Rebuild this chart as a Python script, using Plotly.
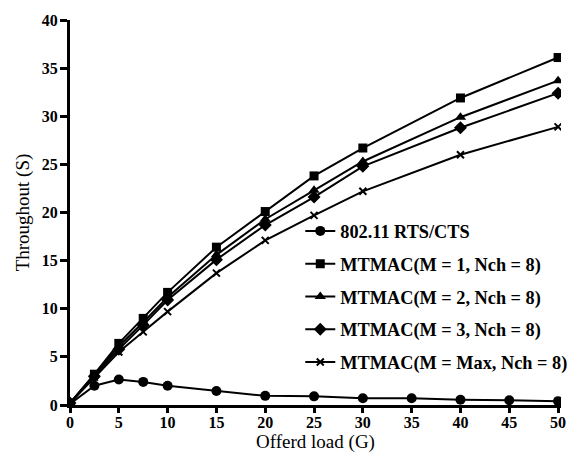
import plotly.graph_objects as go

x_mtmac = [0, 2.5, 5, 7.5, 10, 15, 20, 25, 30, 40, 50]
x_rts = [0, 2.5, 5, 7.5, 10, 15, 20, 25, 30, 35, 40, 45, 50]

rts_cts = [0.1, 2.0, 2.65, 2.4, 2.0, 1.45, 0.95, 0.9, 0.7, 0.7, 0.55, 0.5, 0.4]
mtmac_m1 = [0.2, 3.2, 6.4, 9.0, 11.7, 16.4, 20.1, 23.8, 26.7, 31.9, 36.1]
mtmac_m2 = [0.2, 3.1, 6.1, 8.6, 11.2, 15.6, 19.3, 22.3, 25.3, 29.9, 33.7]
mtmac_m3 = [0.2, 3.0, 5.8, 8.3, 10.9, 15.1, 18.7, 21.6, 24.8, 28.8, 32.4]
mtmac_max = [0.2, 2.9, 5.5, 7.6, 9.7, 13.7, 17.1, 19.7, 22.2, 26.0, 28.9]

names = ["802.11 RTS/CTS", "MTMAC(M = 1, Nch = 8)", "MTMAC(M = 2, Nch = 8)",
         "MTMAC(M = 3, Nch = 8)", "MTMAC(M = Max, Nch = 8)"]

series = [
    (x_rts, rts_cts, "circle", 10),
    (x_mtmac, mtmac_m1, "square", 9),
    (x_mtmac, mtmac_m2, "triangle-up", 10),
    (x_mtmac, mtmac_m3, "diamond", 10),
    (x_mtmac, mtmac_max, "x-thin", 7),
]

fig = go.Figure()
for i, ((xs, ys, sym, sz), nm) in enumerate(zip(series, names)):
    fig.add_trace(go.Scatter(
        x=xs, y=ys, mode="lines+markers", name=nm,
        legendgroup=str(i),
        line=dict(color="black", width=2),
        marker=dict(symbol=sym, size=sz, color="black",
                    line=dict(color="black", width=2 if sym == "x-thin" else 0)),
    ))

title_font = dict(family="Liberation Serif", size=19, color="black")
tick_font = dict(family="Liberation Serif", size=16, color="black", weight="bold")

fig.update_layout(
    width=576, height=455,
    margin=dict(l=70, r=15, t=20, b=50, autoexpand=False),
    paper_bgcolor="white", plot_bgcolor="white",
    font=dict(family="Liberation Serif", size=16, color="black"),
    showlegend=True,
    legend=dict(x=0.469, y=0.5, xanchor="left", yanchor="top",
                bgcolor="rgba(0,0,0,0)",
                font=dict(family="Liberation Serif", size=18.3, color="black", weight="bold"),
                tracegroupgap=6, itemwidth=30),
    xaxis=dict(range=[0, 50.3], tickmode="array", tickvals=list(range(0, 51, 5)),
               showgrid=False, zeroline=False, showline=True, linecolor="black", linewidth=3,
               ticks="outside", ticklen=5, tickwidth=2.5, tickcolor="black",
               ticklabelstandoff=-4,
               title=dict(text="Offerd load (G)", standoff=0, font=title_font),
               tickfont=tick_font),
    yaxis=dict(range=[0, 40], tickmode="array", tickvals=list(range(0, 41, 5)),
               showgrid=False, zeroline=False, showline=True, linecolor="black", linewidth=3,
               ticks="outside", ticklen=7, tickwidth=2.5, tickcolor="black",
               ticklabelstandoff=-1,
               title=dict(text="Throughout (S)", standoff=8, font=title_font),
               tickfont=tick_font),
)

fig.write_html("out.html", config={"displayModeBar": False},
               post_script="document.body.style.margin='0';")
